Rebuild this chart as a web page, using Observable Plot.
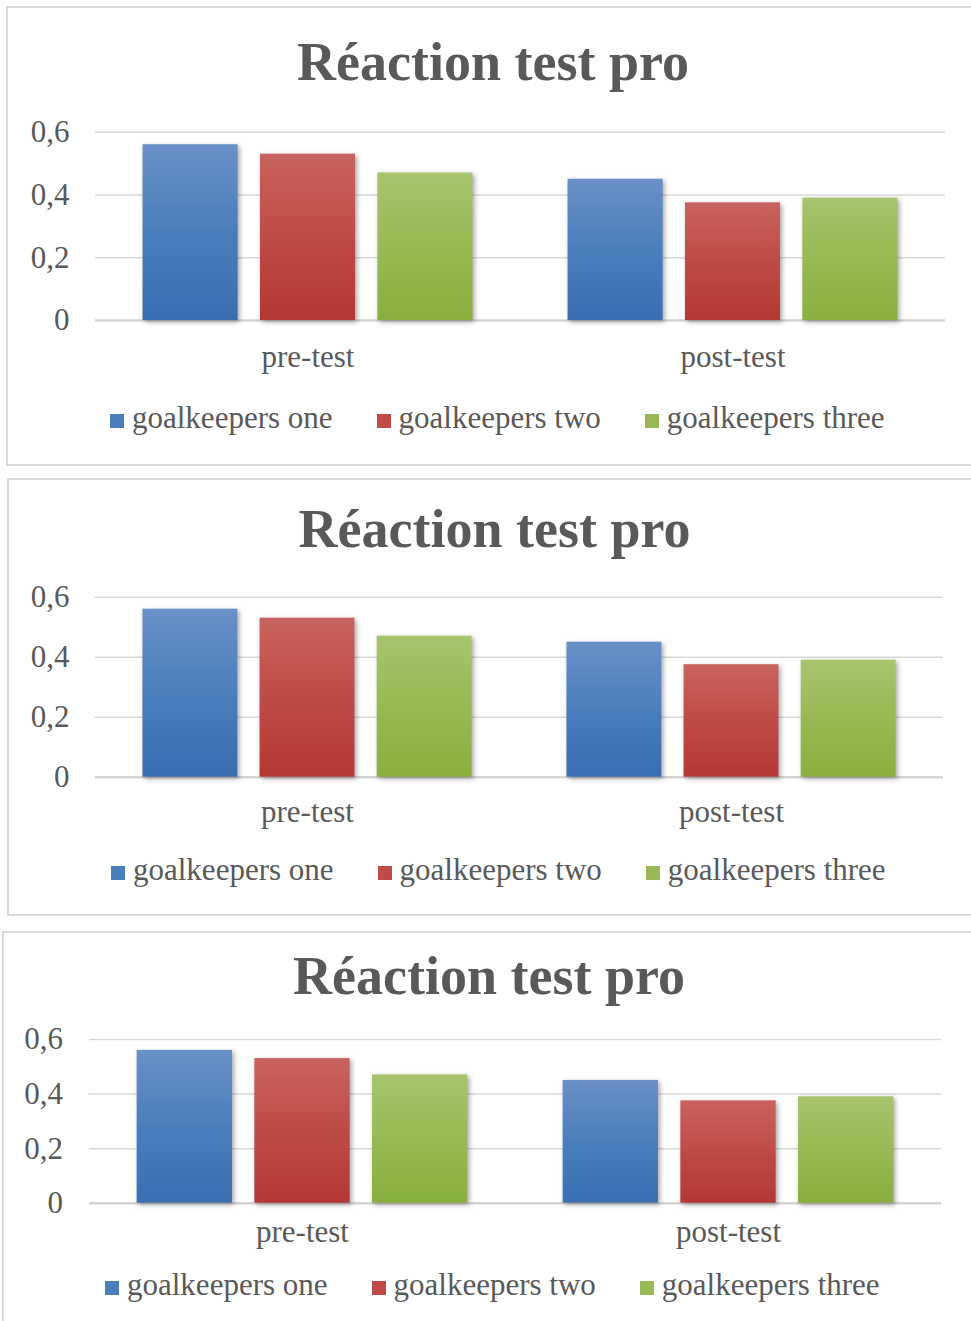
<!DOCTYPE html>
<html>
<head>
<meta charset="utf-8">
<script src="https://cdn.jsdelivr.net/npm/d3@7"></script>
<script src="https://cdn.jsdelivr.net/npm/@observablehq/plot@0.6"></script>
<style>
  html, body { margin: 0; padding: 0; background: #fff; }
  body { position: relative; width: 971px; height: 1321px; overflow: hidden; font-family: "Liberation Serif", serif; }
  .panel { position: absolute; box-sizing: border-box; border: 2px solid #d9d9d9; background: #fff; }
  .title { position: absolute; width: 700px; text-align: center; font-weight: bold; font-size: 54px; line-height: 54px; color: #595959; white-space: nowrap; }
  .legend { position: absolute; display: flex; gap: 44px; font-size: 31px; line-height: 31px; color: #595959; white-space: nowrap; }
  .sw { display: inline-block; width: 14px; height: 14px; margin-right: 8px; vertical-align: baseline; }
  .chart { position: absolute; left: 0; }
</style>
</head>
<body>
<script>
// ---- data ----
const phases = ["pre-test", "post-test"];
const series = ["goalkeepers one", "goalkeepers two", "goalkeepers three"];
const preValues = [0.56, 0.53, 0.47];
const postValues = [0.45, 0.375, 0.39];
const yTicks = [0, 0.2, 0.4, 0.6];
const titleText = "Réaction test pro";

// ---- styles ----
const swatchColors = ["#4a7ebb", "#be4b48", "#98b954"];
const gradTop = ["#6a90c8", "#c9635f", "#a7c46d"];
const gradBottom = ["#3a6eb1", "#b43835", "#8aaf40"];

const table = phases.flatMap((p, i) =>
  series.map((s, j) => ({phase: p, series: s, value: (i === 0 ? preValues : postValues)[j]}))
);

// ---- layout of the three panels (page coordinates) ----
const panels = [
  {left: 6, top: 6, height: 460, titleX: 493, titleBase: 80, svgTop: 100, y06: 131.7, y0: 320, plotL: 94, plotR: 945, yPad: 26, fxBase: 366, legendX: 110, legendBase: 428},
  {left: 7, top: 478, height: 438, titleX: 494.5, titleBase: 547, svgTop: 570, y06: 596.7, y0: 776.7, plotL: 94.5, plotR: 944, yPad: 26, fxBase: 821, legendX: 111, legendBase: 880},
  {left: 2, top: 931, height: 500, titleX: 489, titleBase: 994, svgTop: 1010, y06: 1039, y0: 1202.7, plotL: 88.5, plotR: 941, yPad: 26.5, fxBase: 1241, legendX: 105, legendBase: 1295}
];

const FS = 31;
const LFS = 31;
const fmt = d => String(d).replace(".", ",");

panels.forEach((P, k) => {
  const box = document.createElement("div");
  box.className = "panel";
  Object.assign(box.style, {left: P.left + "px", top: P.top + "px", width: "1000px", height: P.height + "px"});
  document.body.appendChild(box);

  const t = document.createElement("div");
  t.className = "title";
  t.textContent = titleText;
  Object.assign(t.style, {left: (P.titleX - 350) + "px", top: (P.titleBase - 0.8375 * 54) + "px"});
  document.body.appendChild(t);

  const svgH = 280;
  const id = "p" + k;
  const plot = Plot.plot({
    width: 971,
    height: svgH,
    marginLeft: P.plotL,
    marginRight: 971 - P.plotR,
    marginTop: P.y06 - P.svgTop,
    marginBottom: svgH - (P.y0 - P.svgTop),
    style: {fontFamily: '"Liberation Serif", serif', fontSize: FS + "px", color: "#595959", background: "transparent", overflow: "visible"},
    fx: {domain: phases, padding: 0, label: null},
    x: {domain: series, paddingInner: 0.19, paddingOuter: 0.405, round: false, axis: null},
    y: {domain: [0, 0.6], label: null},
    marks: [
      Plot.gridY({ticks: yTicks.slice(1), stroke: "#d9d9d9", strokeOpacity: 1, strokeWidth: 1.5}),
      Plot.ruleY([0], {stroke: "#d4d4d4", strokeWidth: 2.5}),
      ...series.map((s, j) => Plot.barY(table.filter(d => d.series === s), {
        fx: "phase", x: "series", y: "value",
        fill: `url(#${id}-g${j})`,
        imageFilter: "drop-shadow(2px 2px 2.5px rgba(0,0,0,0.35))"
      })),
      Plot.axisY({ticks: yTicks, tickSize: 0, tickPadding: P.yPad, tickFormat: fmt, fontSize: FS, label: null, color: "#595959"}),
      Plot.axisFx({anchor: "bottom", tickSize: 0, tickPadding: P.fxBase - P.y0 - 0.71 * FS, fontSize: FS, label: null, color: "#595959"})
    ]
  });
  const ns = "http://www.w3.org/2000/svg";
  const defs = document.createElementNS(ns, "defs");
  series.forEach((s, j) => {
    const g = document.createElementNS(ns, "linearGradient");
    g.setAttribute("id", `${id}-g${j}`);
    g.setAttribute("x1", "0"); g.setAttribute("y1", "0");
    g.setAttribute("x2", "0"); g.setAttribute("y2", "1");
    [[0, gradTop[j]], [0.5, swatchColors[j]], [1, gradBottom[j]]].forEach(([o, c]) => {
      const st = document.createElementNS(ns, "stop");
      st.setAttribute("offset", o);
      st.setAttribute("stop-color", c);
      g.appendChild(st);
    });
    defs.appendChild(g);
  });
  plot.insertBefore(defs, plot.firstChild);
  plot.classList.add("chart");
  plot.style.top = P.svgTop + "px";
  document.body.appendChild(plot);

  const lg = document.createElement("div");
  lg.className = "legend";
  Object.assign(lg.style, {left: P.legendX + "px", top: (P.legendBase - 0.8375 * LFS) + "px"});
  series.forEach((s, j) => {
    const it = document.createElement("span");
    const sw = document.createElement("span");
    sw.className = "sw";
    sw.style.background = swatchColors[j];
    it.appendChild(sw);
    it.appendChild(document.createTextNode(s));
    lg.appendChild(it);
  });
  document.body.appendChild(lg);
});
</script>
</body>
</html>
